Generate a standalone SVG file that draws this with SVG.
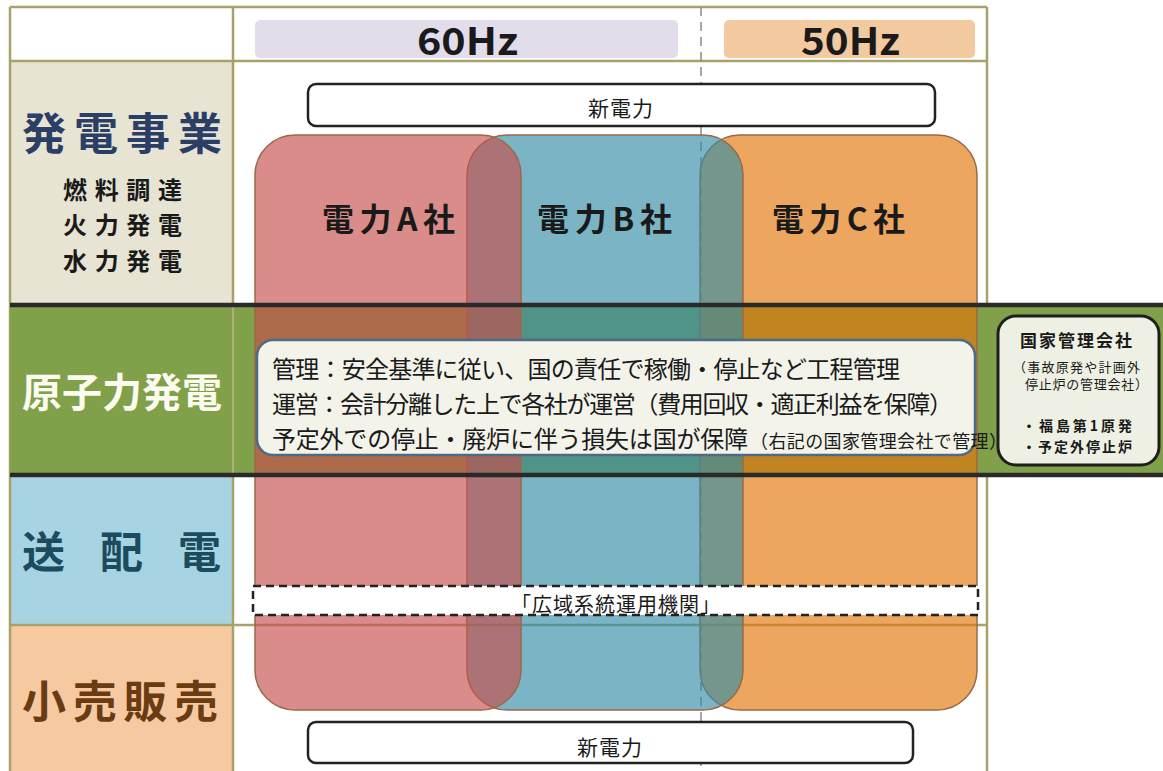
<svg xmlns="http://www.w3.org/2000/svg" width="1163" height="771" viewBox="0 0 1163 771">
<style>
text{font-family:"Noto Sans CJK JP","Noto Sans",sans-serif;fill:#1a1a1a}
.b{font-weight:bold}
.tline{stroke:#a8a268;stroke-width:2.5;fill:none}
.thick{stroke:#2a2a2a;stroke-width:4.5}
.co{stroke:#9a6a48;stroke-width:1.5;fill-opacity:0.65}
.shin{fill:#fff;stroke:#222;stroke-width:2.5}
.note{font-size:24px}
</style>
<rect width="1163" height="771" fill="#fff"/>
<g id="table">
<rect x="10" y="7" width="223" height="54" fill="#fff"/>
<rect x="10" y="61" width="223" height="244" fill="#e7e4d4"/>
<rect x="10" y="475" width="223" height="150" fill="#a7d4e2"/>
<rect x="10" y="625" width="223" height="146" fill="#f6c9a1"/>
<path class="tline" d="M10 7H987M10 61H987M10 625H987M10 7V771M233 7V771M987 7V771"/>
<rect x="10" y="305" width="1153" height="170" fill="#80a04a"/>
<path d="M233 305V475" stroke="#aeb07a" stroke-width="2"/>
<line x1="701" y1="7" x2="701" y2="771" stroke="#8a8a8a" stroke-width="1.5" stroke-dasharray="9 6"/>
</g>
<g id="hdr-60"><rect x="255" y="20" width="423" height="38" rx="5" fill="#e3dcea"/><text class="b" x="417" y="55" font-size="38" textLength="101" lengthAdjust="spacingAndGlyphs">60Hz</text></g>
<g id="hdr-50"><rect x="724" y="20" width="251" height="38" rx="5" fill="#f3c9a0"/><text class="b" x="801" y="55" font-size="38" textLength="99" lengthAdjust="spacingAndGlyphs">50Hz</text></g>
<g id="company-c"><rect class="co" x="700" y="135" width="277" height="575" rx="40" fill="#e2760b"/><text class="b" x="772" y="231" font-size="32" textLength="133" lengthAdjust="spacing">電力C社</text></g>
<g id="company-b"><rect class="co" x="467" y="135" width="276" height="575" rx="40" fill="#348da6"/><text class="b" x="537" y="231" font-size="32" textLength="135" lengthAdjust="spacing">電力B社</text></g>
<g id="company-a"><rect class="co" x="255" y="135" width="266" height="575" rx="40" fill="#c64e4b"/><text class="b" x="322" y="231" font-size="32" textLength="133" lengthAdjust="spacing">電力A社</text></g>
<g id="row-lines"><path class="thick" d="M10 305H1163M10 475H1163"/></g>
<g id="nuclear-note">
<rect x="257" y="340" width="718" height="115" rx="16" fill="#f3f3ea" stroke="#4d6a86" stroke-width="2.5"/>
<text class="note" x="272" y="378" textLength="628" lengthAdjust="spacing">管理：安全基準に従い、国の責任で稼働・停止など工程管理</text>
<text class="note" x="272" y="413" textLength="681" lengthAdjust="spacing">運営：会計分離した上で各社が運営（費用回収・適正利益を保障）</text>
<text class="note" x="272" y="448" textLength="476" lengthAdjust="spacing">予定外での停止・廃炉に伴う損失は国が保障</text>
<text x="750" y="448" font-size="18" textLength="257" lengthAdjust="spacing">（右記の国家管理会社で管理）</text>
</g>
<g id="kokka">
<rect x="998" y="316" width="161" height="149" rx="18" fill="#eef0e4" stroke="#1e1e1e" stroke-width="3"/>
<text class="b" x="1020" y="347" font-size="17" textLength="112" lengthAdjust="spacing">国家管理会社</text>
<text x="1013" y="372" font-size="13" textLength="127" lengthAdjust="spacing">（事故原発や計画外</text>
<text x="1025" y="389" font-size="13" textLength="123" lengthAdjust="spacing">停止炉の管理会社）</text>
<text class="b" x="1022" y="431" font-size="14" textLength="110" lengthAdjust="spacing">・福島第1原発</text>
<text class="b" x="1022" y="452" font-size="14" textLength="110" lengthAdjust="spacing">・予定外停止炉</text>
</g>
<g id="koiki"><rect x="253" y="586" width="725" height="29" fill="#fff" stroke="#222" stroke-width="2.5" stroke-dasharray="8 5"/><text x="511" y="612" font-size="20" textLength="209" lengthAdjust="spacing">「広域系統運用機関」</text></g>
<g id="shin-top"><rect class="shin" x="308" y="84" width="627" height="42" rx="8"/><text x="588" y="116" font-size="21" textLength="65" lengthAdjust="spacing">新電力</text></g>
<g id="shin-bottom"><rect class="shin" x="308" y="722" width="605" height="41" rx="8"/><text x="577" y="755" font-size="21" textLength="65" lengthAdjust="spacing">新電力</text></g>
<g id="label-hatsuden">
<text class="b" x="22" y="150" font-size="44" style="fill:#2b3f66" textLength="200" lengthAdjust="spacing">発電事業</text>
<text class="b" x="63" y="199" font-size="24" textLength="119" lengthAdjust="spacing">燃料調達</text>
<text class="b" x="63" y="234" font-size="24" textLength="119" lengthAdjust="spacing">火力発電</text>
<text class="b" x="63" y="270" font-size="24" textLength="119" lengthAdjust="spacing">水力発電</text>
</g>
<g id="label-nuclear"><text class="b" x="22" y="407" font-size="40" style="fill:#fbfbef" textLength="200" lengthAdjust="spacing">原子力発電</text></g>
<g id="label-souhaiden"><text class="b" x="22 100 178" y="568" font-size="43" style="fill:#1d4b5e">送配電</text></g>
<g id="label-kouri"><text class="b" x="22" y="718" font-size="44" style="fill:#6b3b12" textLength="196" lengthAdjust="spacing">小売販売</text></g>
<g id="connectors"/>
</svg>
